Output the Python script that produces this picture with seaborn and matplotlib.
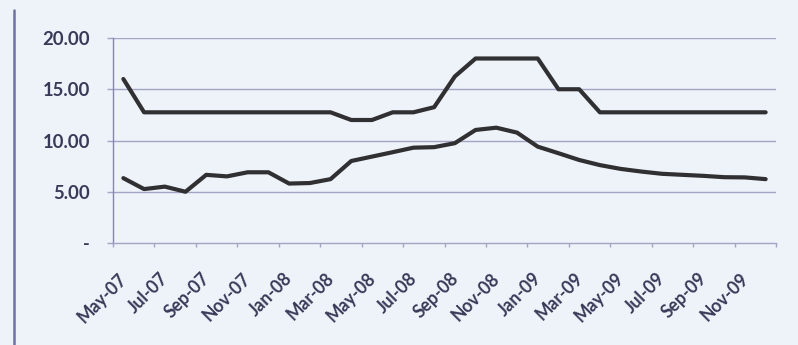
import matplotlib
matplotlib.use("Agg")
import matplotlib.pyplot as plt
import matplotlib.transforms as mtransforms
from matplotlib.lines import Line2D
import pandas as pd
import seaborn as sns

# Monthly categories, May 2007 - Dec 2009
months = ["May-07", "Jun-07", "Jul-07", "Aug-07", "Sep-07", "Oct-07", "Nov-07", "Dec-07",
          "Jan-08", "Feb-08", "Mar-08", "Apr-08", "May-08", "Jun-08", "Jul-08", "Aug-08",
          "Sep-08", "Oct-08", "Nov-08", "Dec-08", "Jan-09", "Feb-09", "Mar-09", "Apr-09",
          "May-09", "Jun-09", "Jul-09", "Aug-09", "Sep-09", "Oct-09", "Nov-09", "Dec-09"]

upper_rate = [16.00, 12.75, 12.75, 12.75, 12.75, 12.75, 12.75, 12.75,
              12.75, 12.75, 12.75, 12.00, 12.00, 12.75, 12.75, 13.25,
              16.25, 18.00, 18.00, 18.00, 18.00, 15.00, 15.00, 12.75,
              12.75, 12.75, 12.75, 12.75, 12.75, 12.75, 12.75, 12.75]

lower_rate = [6.33, 5.26, 5.50, 5.00, 6.65, 6.50, 6.90, 6.90,
              5.80, 5.85, 6.23, 8.00, 8.43, 8.86, 9.30, 9.35,
              9.74, 11.03, 11.25, 10.77, 9.40, 8.76, 8.10, 7.60,
              7.23, 6.97, 6.75, 6.65, 6.55, 6.42, 6.40, 6.23]

y_ticks = [0, 5, 10, 15, 20]
y_tick_labels = ["-", "5.00", "10.00", "15.00", "20.00"]

bg = "#eef2f9"
ink = "#383a58"
grid_col = "#a3a5c4"
line_col = "#303032"

sns.set_theme(style="white")
plt.rcParams["font.family"] = ["Lato", "DejaVu Sans"]

df = pd.DataFrame({
    "idx": list(range(len(months))) * 2,
    "rate": upper_rate + lower_rate,
    "series": ["upper"] * len(months) + ["lower"] * len(months),
})

DPI = 100
W, H = 798, 345
fig = plt.figure(figsize=(W / DPI, H / DPI), dpi=DPI, facecolor=bg)
ax = fig.add_axes([113 / W, 1 - 243 / H, (776 - 113) / W, (243 - 38) / H])
ax.set_facecolor(bg)

sns.lineplot(data=df, x="idx", y="rate", units="series", estimator=None,
             color=line_col, linewidth=3.0, ax=ax, legend=False)

ax.set_xlim(-0.5, len(months) - 0.5)
ax.set_ylim(0, 20)

# horizontal gridlines
for v in y_ticks[1:]:
    ax.axhline(v, color=grid_col, linewidth=1.0, zorder=0)

for side in ["top", "right"]:
    ax.spines[side].set_visible(False)
ax.spines["left"].set_color("#8486b0")
ax.spines["left"].set_linewidth(1.0)
ax.spines["bottom"].set_color(grid_col)
ax.spines["bottom"].set_linewidth(1.0)

ax.set_yticks(y_ticks)
ax.set_yticklabels(y_tick_labels)
ax.tick_params(axis="y", which="major", length=4, width=1.0, color=grid_col,
               pad=12, labelsize=12.5, labelcolor=ink, left=True)

# labels on every second month, tick marks on category boundaries
label_pos = list(range(0, len(months), 2))
ax.set_xticks(label_pos)
ax.set_xticklabels([months[i] for i in label_pos], rotation=45, ha="right",
                   va="top", rotation_mode="anchor")
ax.set_xticks([p - 0.5 for p in range(0, len(months) + 1, 2)], minor=True)
ax.tick_params(axis="x", which="major", length=0, pad=20, labelsize=12.5,
               labelcolor=ink, bottom=True)
ax.tick_params(axis="x", which="minor", length=3, width=1.0, color=grid_col,
               direction="out", bottom=True)
for t in ax.get_xticklabels() + ax.get_yticklabels():
    t.set_fontweight("bold")

ax.set_xlabel("")
ax.set_ylabel("")

# size and place the tick labels in pixels
renderer = fig.canvas.get_renderer()
fig.canvas.draw()
bb = ax.get_yticklabels()[-1].get_window_extent(renderer)
label_size = 12.5 * 47.0 / bb.width
ax.tick_params(axis="y", labelsize=label_size)
ax.tick_params(axis="x", which="major", labelsize=label_size * 0.95)
fig.canvas.draw()
bb = ax.get_yticklabels()[-1].get_window_extent(renderer)
ax.tick_params(axis="y", pad=12 + (bb.x1 - 90) * 72 / DPI)

bb = ax.get_xticklabels()[0].get_window_extent(renderer)
target_top = H - 270
ax.tick_params(axis="x", which="major", pad=20 + (bb.y1 - target_top) * 72 / DPI)
fig.canvas.draw()
bb = ax.get_xticklabels()[0].get_window_extent(renderer)
dx = (130 - bb.x1) / DPI
shift = mtransforms.ScaledTranslation(dx, 0, fig.dpi_scale_trans)
for t in ax.get_xticklabels():
    t.set_transform(t.get_transform() + shift)

# column rule along the left edge
fig.add_artist(Line2D([14 / W, 14 / W], [0, 1 - 10 / H], transform=fig.transFigure,
                      color="#6f71a3", linewidth=1.8))

fig.savefig("out.png", dpi=DPI, facecolor=bg)
